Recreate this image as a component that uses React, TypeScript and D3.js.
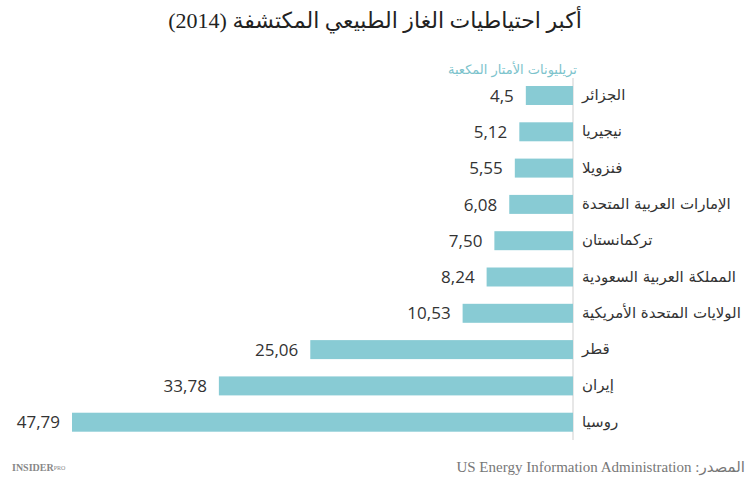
import React from "react";
import * as d3 from "d3";

const countries = [
  "الجزائر",
  "نيجيريا",
  "فنزويلا",
  "الإمارات العربية المتحدة",
  "تركمانستان",
  "المملكة العربية السعودية",
  "الولايات المتحدة الأمريكية",
  "قطر",
  "إيران",
  "روسيا",
];
const values = [4.5, 5.12, 5.55, 6.08, 7.5, 8.24, 10.53, 25.06, 33.78, 47.79];
const valueLabels = ["4,5", "5,12", "5,55", "6,08", "7,50", "8,24", "10,53", "25,06", "33,78", "47,79"];

const title = "أكبر احتياطيات الغاز الطبيعي المكتشفة (2014)";
const unitLabel = "تريليونات الأمتار المكعبة";
const sourceLabel = "المصدر: US Energy Information Administration";

const W = 750;
const H = 483;
const axisX = 573;

export default function App() {
  const x = d3.scaleLinear().domain([0, 47.79]).range([axisX, 72]);
  const y = d3
    .scaleBand<string>()
    .domain(countries)
    .range([86, 431.7])
    .paddingInner(0.477)
    .paddingOuter(0);
  const bw = y.bandwidth();
  const arabicFont = "'DejaVu Sans', 'Open Sans', sans-serif";
  return (
    <svg
      width={W}
      height={H}
      style={{ position: "absolute", left: 0, top: 0, background: "#fff" }}
    >
      <text
        x={375}
        y={28}
        textAnchor="middle"
        fontFamily="'Liberation Serif', 'DejaVu Sans', serif"
        fontSize={22}
        fill="#222"
      >
        {title}
      </text>
      <text
        x={577}
        y={74}
        direction="rtl"
        textAnchor="start"
        fontFamily={arabicFont}
        fontSize={13}
        fill="#7cc3cc"
      >
        {unitLabel}
      </text>
      <line x1={axisX} x2={axisX} y1={78} y2={440} stroke="#cfcfcf" strokeWidth={1} />
      {countries.map((c, i) => {
        const yy = y(c) as number;
        const cy = yy + bw / 2;
        return (
          <g key={c}>
            <rect
              x={x(values[i])}
              y={yy}
              width={axisX - x(values[i])}
              height={bw}
              fill="#88cbd4"
            />
            <text
              x={x(values[i]) - 12}
              y={cy}
              dy="0.36em"
              textAnchor="end"
              fontFamily="'Open Sans', sans-serif"
              fontSize={17}
              fill="#333"
            >
              {valueLabels[i]}
            </text>
            <text
              x={582}
              y={cy}
              dy="0.3em"
              direction="rtl"
              textAnchor="end"
              fontFamily={arabicFont}
              fontSize={15}
              fill="#333"
            >
              {c}
            </text>
          </g>
        );
      })}
      <text
        x={12}
        y={471}
        fontFamily="'Liberation Serif', serif"
        fontWeight="bold"
        fontSize={10}
        fill="#888"
      >
        INSIDER
        <tspan fontSize={6} dy={-1} fontWeight="normal">PRO</tspan>
      </text>
      <text
        x={745}
        y={472}
        direction="rtl"
        textAnchor="start"
        fontFamily="'Liberation Serif', 'DejaVu Sans', serif"
        fontSize={15}
        fill="#777"
      >
        {sourceLabel}
      </text>
    </svg>
  );
}
